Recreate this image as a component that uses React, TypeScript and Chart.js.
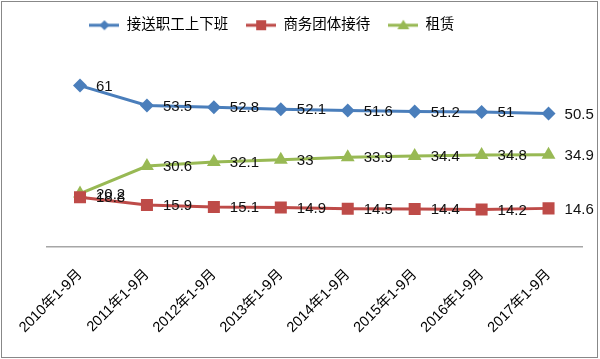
import React, { useEffect, useRef } from "react";
import { Chart, registerables } from "chart.js";

Chart.register(...registerables);

const categories = [
  "2010年1-9月",
  "2011年1-9月",
  "2012年1-9月",
  "2013年1-9月",
  "2014年1-9月",
  "2015年1-9月",
  "2016年1-9月",
  "2017年1-9月",
];
const seriesNames = ["接送职工上下班", "商务团体接待", "租赁"];
const commuteValues = [61, 53.5, 52.8, 52.1, 51.6, 51.2, 51, 50.5];
const businessValues = [18.8, 15.9, 15.1, 14.9, 14.5, 14.4, 14.2, 14.6];
const leaseValues = [20.2, 30.6, 32.1, 33, 33.9, 34.4, 34.8, 34.9];
const colors = ["#4a7ebb", "#be4b48", "#98b954"];
const markerStyles = ["rectRot", "rect", "triangle"];
const markerRadius = [7, 8.5, 8];

const FONT = "'Liberation Sans', 'Noto Sans CJK SC', sans-serif";

function makeLegendIcon(color: string, style: string): HTMLCanvasElement {
  const c = document.createElement("canvas");
  c.width = 30;
  c.height = 16;
  const ctx = c.getContext("2d")!;
  ctx.strokeStyle = color;
  ctx.fillStyle = color;
  ctx.lineWidth = 3;
  ctx.beginPath();
  ctx.moveTo(0, 8);
  ctx.lineTo(30, 8);
  ctx.stroke();
  ctx.beginPath();
  if (style === "rectRot") {
    ctx.moveTo(15, 3);
    ctx.lineTo(20, 8);
    ctx.lineTo(15, 13);
    ctx.lineTo(10, 8);
  } else if (style === "rect") {
    ctx.rect(10, 3, 10, 10);
  } else {
    ctx.moveTo(15, 2.5);
    ctx.lineTo(21, 12);
    ctx.lineTo(9, 12);
  }
  ctx.closePath();
  ctx.fill();
  return c;
}

const frameAndLabels = {
  id: "frameAndLabels",
  afterLayout(chart: any) {
    const lg = chart.legend;
    if (lg) {
      lg.left -= 42;
      lg.right -= 42;
    }
  },
  beforeDraw(chart: any) {
    const ctx = chart.ctx;
    ctx.save();
    ctx.fillStyle = "#ffffff";
    ctx.fillRect(0, 0, chart.width, chart.height);
    ctx.strokeStyle = "#888888";
    ctx.lineWidth = 1;
    ctx.strokeRect(1.5, 1.5, chart.width - 4, chart.height - 3);
    ctx.restore();
  },
  afterDatasetsDraw(chart: any) {
    const ctx = chart.ctx;
    ctx.save();
    ctx.font = "15px " + FONT;
    ctx.fillStyle = "#111111";
    ctx.textAlign = "left";
    ctx.textBaseline = "middle";
    chart.data.datasets.forEach((ds: any, i: number) => {
      const meta = chart.getDatasetMeta(i);
      meta.data.forEach((pt: any, j: number) => {
        ctx.fillText(String(ds.data[j]), pt.x + 16, pt.y + 1);
      });
    });
    ctx.restore();
  },
};

export default function App() {
  const ref = useRef<HTMLCanvasElement>(null);
  useEffect(() => {
    if (!ref.current) return;
    const allValues = [commuteValues, businessValues, leaseValues];
    const icons = colors.map((c, i) => makeLegendIcon(c, markerStyles[i]));
    const chart = new Chart(ref.current, {
      type: "line",
      data: {
        labels: categories,
        datasets: seriesNames.map((name, i) => ({
          label: name,
          data: allValues[i],
          borderColor: colors[i],
          backgroundColor: colors[i],
          borderWidth: 3,
          pointStyle: markerStyles[i] as any,
          pointRadius: markerRadius[i],
          pointBorderWidth: 0,
          pointBackgroundColor: colors[i],
          tension: 0,
        })),
      },
      options: {
        responsive: false,
        animation: false,
        events: [],
        layout: { padding: { left: 46, right: 18, top: 0, bottom: 0 } },
        plugins: {
          tooltip: { enabled: false },
          legend: {
            display: true,
            position: "top",
            labels: {
              usePointStyle: true,
              pointStyleWidth: 30,
              padding: 18,
              color: "#000000",
              font: { size: 14.5, family: FONT },
              generateLabels: (ch: any) =>
                ch.data.datasets.map((ds: any, i: number) => ({
                  text: ds.label,
                  pointStyle: icons[i],
                  fillStyle: colors[i],
                  strokeStyle: colors[i],
                  lineWidth: 0,
                  hidden: false,
                  datasetIndex: i,
                  fontColor: "#000000",
                })),
            },
          },
        },
        scales: {
          x: {
            offset: true,
            grid: { display: false, drawTicks: false },
            border: { display: true, color: "#a6a6a6", width: 1.5 },
            ticks: {
              minRotation: 45,
              maxRotation: 45,
              padding: 19,
              color: "#000000",
              font: { size: 14.5, family: FONT },
            },
            afterFit: (scale: any) => {
              scale.height = 112;
            },
          },
          y: {
            display: false,
            min: 0,
            max: 77.3,
          },
        },
      },
      plugins: [frameAndLabels],
    });
    return () => chart.destroy();
  }, []);
  return (
    <div style={{ position: "absolute", left: 0, top: 0, width: 600, height: 359 }}>
      <canvas ref={ref} width={600} height={359} style={{ display: "block" }} />
    </div>
  );
}
